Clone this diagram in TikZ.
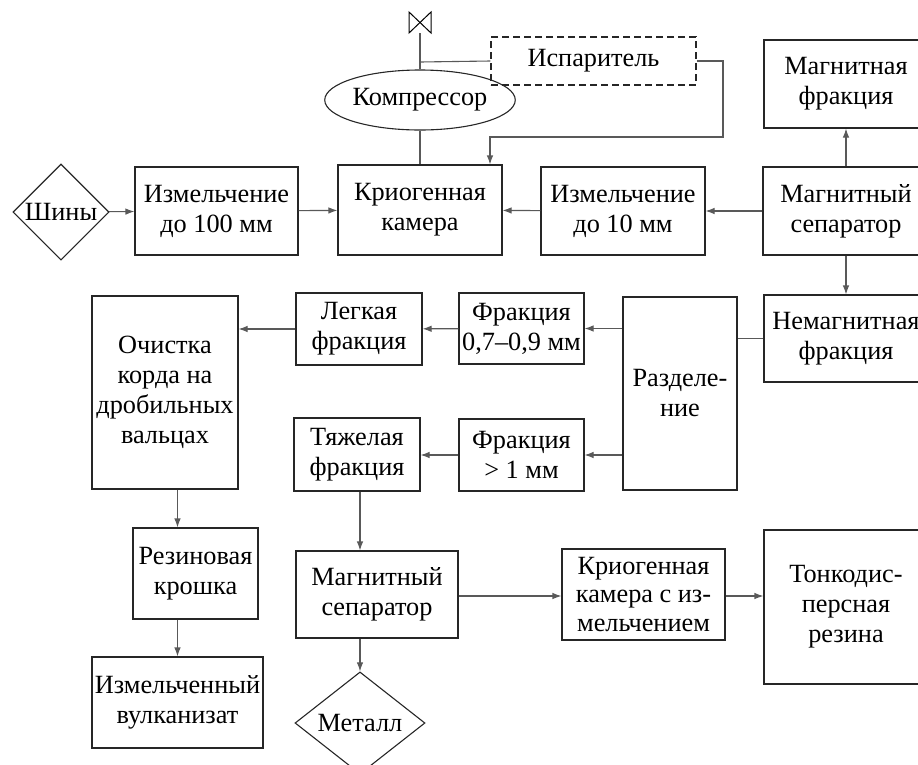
\documentclass[tikz,border=0pt]{standalone}
\usepackage{fontspec}
\setmainfont{Liberation Serif}
\usetikzlibrary{arrows.meta,shapes.geometric}

\tikzset{
  block/.style={draw=black!85, line width=1.1pt, align=center, inner sep=0pt,
    font=\fontsize{26.3}{30}\selectfont},
  flow/.style={draw=black!65, line width=1.1pt},
  flowarrow/.style={flow, -{Latex[length=9pt, width=6.5pt]}}
}

\begin{document}
\begin{tikzpicture}[x=1pt, y=-1pt]
  % Fix the page to the size of the original picture
  \useasboundingbox (0,0) rectangle (918,764);

  % Top row: tyres, shredding, cryogenic chamber, magnetic separator
  \node[block, diamond, minimum width=96, minimum height=96] (tyres) at (61,212) {Шины};
  \node[block, minimum width=163, minimum height=88] (shred100) at (216.5,211) {Измельчение\\до 100 мм};
  \node[block, minimum width=164, minimum height=90] (cryo) at (420,210) {Криогенная\\камера};
  \node[block, minimum width=164, minimum height=88] (shred10) at (623,211) {Измельчение\\до 10 мм};
  \node[block, minimum width=166, minimum height=88] (magsep) at (846,211) {Магнитный\\сепаратор};
  \node[block, minimum width=164, minimum height=88] (magfrac) at (846,84) {Магнитная\\фракция};

  % Cooling loop above the chamber
  \node[block, ellipse, minimum width=162, minimum height=60] (compressor) at (420,100) {Компрессор};
  \node[block, dash pattern=on 7pt off 4pt, minimum width=205, minimum height=48] (evaporator) at (593.5,61) {Испаритель};

  % Valve on top of the compressor line
  \coordinate (valve top)    at (420,12);
  \coordinate (valve bottom) at (420,33);
  \draw[line width=1pt] (409,12) -- (409,33) -- (431,12) -- (431,33) -- cycle;

  % Separation branch
  \node[block, minimum width=164, minimum height=87] (nonmag) at (846,338.5) {Немагнитная\\фракция};
  \node[block, minimum width=114, minimum height=193] (split) at (680,393.5) {Разделе-\\ние};
  \node[block, minimum width=125, minimum height=71] (frac07) at (521.5,328.5) {Фракция\\0,7–0,9 мм};
  \node[block, minimum width=125, minimum height=72] (frac1) at (521.5,455) {Фракция\\> 1 мм};
  \node[block, minimum width=126, minimum height=72] (light) at (359,329) {Легкая\\фракция};
  \node[block, minimum width=126, minimum height=73] (heavy) at (357,454.5) {Тяжелая\\фракция};

  % Light fraction line
  \node[block, minimum width=146, minimum height=193] (cleaning) at (165,392.5) {Очистка\\корда на\\дробильных\\вальцах};
  \node[block, minimum width=125, minimum height=91] (crumb) at (195.5,573.5) {Резиновая\\крошка};
  \node[block, minimum width=171, minimum height=91] (vulcan) at (177.5,702.5) {Измельченный\\вулканизат};

  % Heavy fraction line
  \node[block, minimum width=162, minimum height=87] (magsep2) at (377,594.5) {Магнитный\\сепаратор};
  \node[block, diamond, minimum width=130, minimum height=84] (metal) at (360,723) {Металл};
  \node[block, minimum width=163, minimum height=91,
        font=\fontsize{26.3}{28.5}\selectfont] (cryo2) at (643.5,594.5) {Криогенная\\камера с из-\\мельчением};
  \node[block, minimum width=164, minimum height=154] (fine) at (846,607) {Тонкодис-\\персная\\резина};

  % Connectors of the top row
  \draw[flowarrow] (tyres) -- (shred100);
  \draw[flowarrow] (shred100) -- (cryo);
  \draw[flowarrow] (shred10) -- (cryo);
  \draw[flowarrow] (magsep) -- (shred10);
  \draw[flowarrow] (magsep) -- (magfrac);
  \draw[flowarrow] (magsep) -- (nonmag);

  % Compressor line and evaporator loop
  \coordinate (tee)       at (420,62);
  \coordinate (loop turn) at (723,137);
  \draw[flow] (valve bottom) -- (compressor.north);
  \draw[flow] (compressor.south) -- (cryo.north);
  \draw[flow] (tee) -- (evaporator.west);
  \draw[flowarrow] (evaporator.east) -| (loop turn) -| ([xshift=70]cryo.north);

  % Separation connectors
  \draw[flow] (nonmag.west) -- (nonmag.west -| split.east);
  \draw[flowarrow] (split.west |- frac07) -- (frac07.east);
  \draw[flowarrow] (split.west |- frac1) -- (frac1.east);
  \draw[flowarrow] (frac07) -- (light);
  \draw[flowarrow] (frac1.west) -- (frac1.west -| heavy.east);
  \draw[flowarrow] (light.west) -- (light.west -| cleaning.east);

  % Down the left column
  \draw[flowarrow] (cleaning.south -| vulcan.north) -- (crumb.north -| vulcan.north);
  \draw[flowarrow] (crumb.south -| vulcan.north) -- (vulcan.north);

  % Heavy fraction to metal and fine rubber
  \draw[flowarrow] (heavy.south -| metal.north) -- (magsep2.north -| metal.north);
  \draw[flowarrow] (magsep2.south -| metal.north) -- (metal.north);
  \draw[flowarrow] (magsep2.east |- 0,596) -- (cryo2.west |- 0,596);
  \draw[flowarrow] (cryo2.east |- 0,596) -- (fine.west |- 0,596);
\end{tikzpicture}
\end{document}
